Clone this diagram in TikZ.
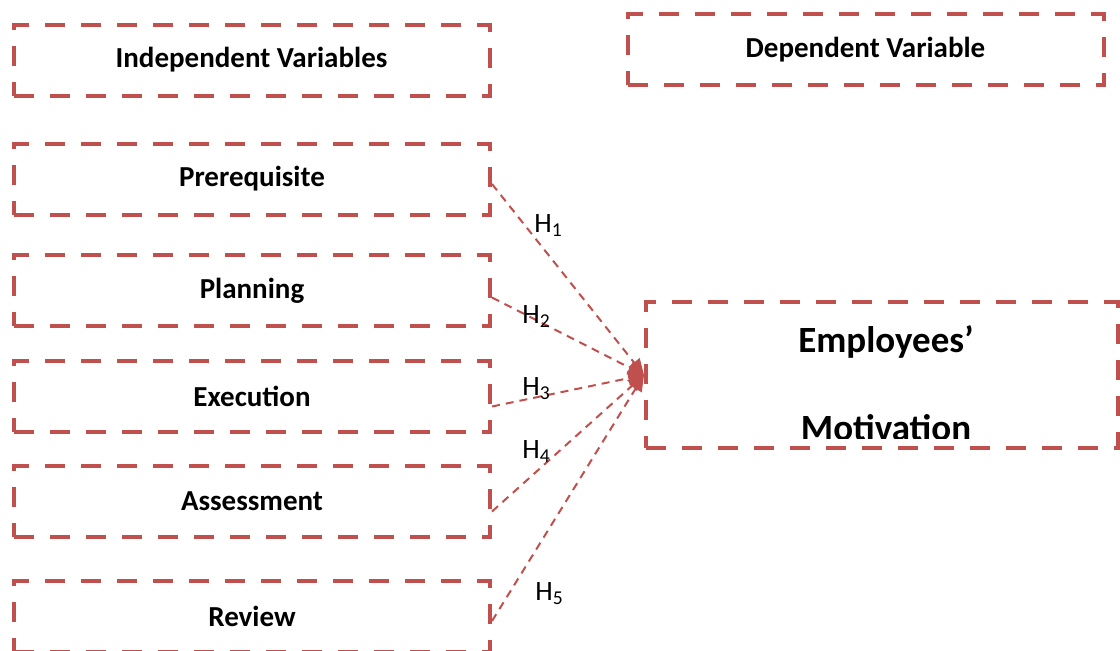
\documentclass[tikz,border=0pt]{standalone}
\usepackage{fontspec}
\setmainfont{Carlito}
\usetikzlibrary{positioning,arrows.meta,calc}
\definecolor{varred}{HTML}{C0504D}
\tikzset{
  varbox/.style={rectangle,draw=varred,line width=2pt,dash pattern=on 10pt off 8pt,
    minimum width=238pt,minimum height=35.5pt,inner sep=0pt,
    font=\bfseries\fontsize{14.5}{17}\selectfont},
  hyp/.style={draw=varred,line width=1pt,dash pattern=on 4pt off 3pt,
    -{Triangle[length=8pt,width=7pt]}},
  hlab/.style={inner sep=0pt,anchor=base west,font=\fontsize{14}{16}\selectfont},
  dvtxt/.style={inner sep=0pt,anchor=base,font=\bfseries\fontsize{18.5}{22}\selectfont},
}
\begin{document}
\begin{tikzpicture}[x=0.5pt,y=-0.5pt]
  \useasboundingbox (0,0) rectangle (1120,650);
  % headings
  \node[varbox] (indep) at (251.5,60) {Independent Variables};
  \node[varbox] (dep) at (865.5,49.5) {Dependent Variable};
  % independent variables
  \node[varbox] (prereq) at (252,179) {Prerequisite};
  \node[varbox] (plan) at (252,290.5) {Planning};
  \node[varbox] (exec) at (252,396.5) {Execution};
  \node[varbox] (assess) at (252,501.5) {Assessment};
  \node[varbox] (review) at (252,616) {Review};
  % dependent variable
  \node[varbox,minimum width=236pt,minimum height=73pt] (motiv) at (882,375) {};
  \node[dvtxt] (motivA) at (886,352) {Employees’};
  \begin{scope}
    \clip (646,300) rectangle (1118,438);
    \node[dvtxt] (motivB) at (886,440) {Motivation};
  \end{scope}
  % hypotheses
  \draw[hyp] ($(prereq.east)+(0,5)$) -- (motiv.west);
  \draw[hyp] ($(plan.east)+(0,7)$) -- (motiv.west);
  \draw[hyp] ($(exec.east)+(0,10)$) -- (motiv.west);
  \draw[hyp] ($(assess.east)+(0,10)$) -- (motiv.west);
  \draw[hyp] ($(review.east)+(0,5)$) -- (motiv.west);
  \node[hlab] (h1) at (534,232) {H\textsubscript{1}};
  \node[hlab] (h2) at (522,323) {H\textsubscript{2}};
  \node[hlab] (h3) at (522,395) {H\textsubscript{3}};
  \node[hlab] (h4) at (522,458) {H\textsubscript{4}};
  \node[hlab] (h5) at (535,600) {H\textsubscript{5}};
\end{tikzpicture}
\end{document}
